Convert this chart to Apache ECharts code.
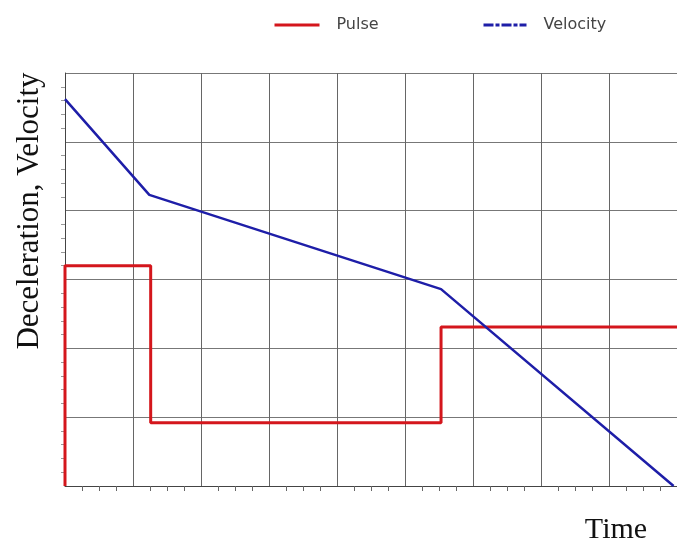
<!DOCTYPE html>
<html>
<head>
<meta charset="utf-8">
<script src="https://cdn.jsdelivr.net/npm/echarts@6/dist/echarts.min.js"></script>
<style>
  html, body { margin: 0; padding: 0; background: #fff; }
  #chart { width: 677px; height: 542px; }
</style>
</head>
<body>
<div id="chart"></div>
<script>
// step pulse: [time, deceleration]
const pulseTime = [0, 0, 1.26, 1.26, 5.53, 5.53, 9];
const pulseValue = [0, 3.2, 3.2, 0.92, 0.92, 2.31, 2.31];

// velocity: [time, velocity]
const velocityTime = [0, 1.24, 5.53, 8.95];
const velocityValue = [5.62, 4.23, 2.86, 0];

const seriesNames = ["Pulse", "Velocity"];
const xTitle = "Time";
const yTitle = "Deceleration, Velocity";

const chart = echarts.init(document.getElementById("chart"));

const pulseData = pulseTime.map((t, i) => [t, pulseValue[i]]);
const velocityData = velocityTime.map((t, i) => [t, velocityValue[i]]);

const legendText = { fontFamily: "DejaVu Sans", fontSize: 16, color: "#444", padding: [0, 0, 0, 12] };

chart.setOption({
  animation: false,
  backgroundColor: "#fff",
  legend: [
    {
      left: 268,
      top: 12,
      itemWidth: 45,
      itemHeight: 14,
      data: [seriesNames[0]],
      itemStyle: { color: "transparent", borderWidth: 0 },
      lineStyle: { width: 3 },
      textStyle: legendText,
    },
    {
      left: 477,
      top: 12,
      itemWidth: 43,
      itemHeight: 14,
      data: [seriesNames[1]],
      itemStyle: { color: "transparent", borderWidth: 0 },
      lineStyle: { width: 3, type: [10, 2, 4, 2] },
      textStyle: legendText,
    },
  ],
  grid: {
    left: 65,
    top: 73,
    width: 617,
    height: 413,
  },
  xAxis: {
    type: "value",
    min: 0,
    max: 9,
    interval: 1,
    axisLine: { show: true, lineStyle: { color: "#444", width: 1 } },
    axisTick: { show: false },
    minorTick: { show: true, splitNumber: 4, length: 5, lineStyle: { color: "#666" } },
    axisLabel: { show: false },
    splitLine: { show: true, lineStyle: { color: "#666", width: 1 } },
  },
  yAxis: {
    type: "value",
    min: 0,
    max: 6,
    interval: 1,
    axisLine: { show: true, lineStyle: { color: "#444", width: 1 } },
    axisTick: { show: false },
    minorTick: { show: true, splitNumber: 5, length: 4, lineStyle: { color: "#999" } },
    axisLabel: { show: false },
    splitLine: { show: true, lineStyle: { color: "#777", width: 1 } },
  },
  graphic: [
    {
      type: "text",
      x: 30,
      y: 211,
      rotation: Math.PI / 2,
      style: {
        text: yTitle,
        fontFamily: "Liberation Serif",
        fontSize: 31,
        fill: "#111",
        align: "center",
        verticalAlign: "middle",
      },
    },
    {
      type: "text",
      x: 616,
      y: 530,
      style: {
        text: xTitle,
        fontFamily: "Liberation Serif",
        fontSize: 30,
        fill: "#111",
        align: "center",
        verticalAlign: "middle",
      },
    },
  ],
  series: [
    {
      name: seriesNames[0],
      type: "line",
      data: pulseData,
      symbol: "none",
      color: "#d4161c",
      lineStyle: { color: "#d4161c", width: 3 },
      z: 3,
    },
    {
      name: seriesNames[1],
      type: "line",
      data: velocityData,
      symbol: "none",
      color: "#1e1ea8",
      lineStyle: { color: "#1e1ea8", width: 2.5 },
      z: 4,
    },
  ],
});
</script>
</body>
</html>
